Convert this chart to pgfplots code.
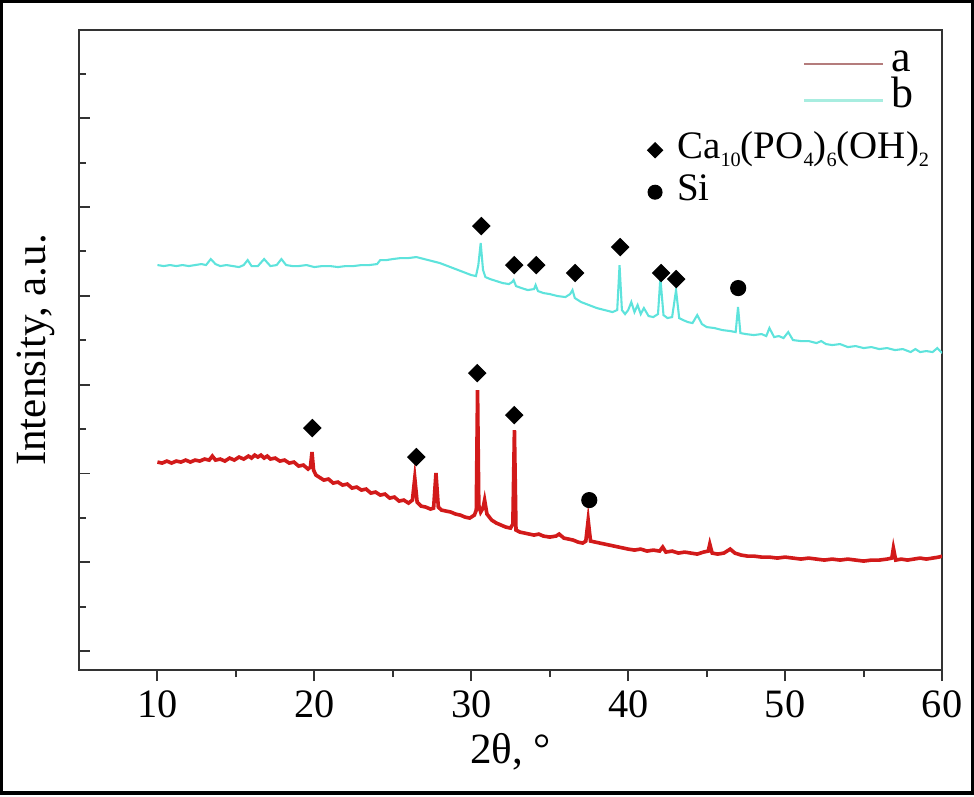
\documentclass[border=0pt]{standalone}
\usepackage{pgfplots}
\pgfplotsset{compat=1.18}
\usepackage{fontspec}
\setmainfont{Liberation Serif}
\definecolor{redA}{HTML}{D21A1A}
\definecolor{cyanB}{HTML}{5EE3DC}
\definecolor{legA}{HTML}{B47C7C}
\definecolor{legB}{HTML}{A8EDE0}
\definecolor{axisgray}{HTML}{333333}
\newcommand{\sub}[1]{\raisebox{-0.45ex}{\fontsize{7.3}{8}\selectfont #1}}
\begin{document}
\begin{tikzpicture}
\useasboundingbox (-28.4pt,-45.3pt) rectangle (321.9pt,241.0pt);
\begin{axis}[
  at={(0pt,0pt)}, anchor=south west,
  scale only axis, width=310.4pt, height=230.2pt,
  xmin=5, xmax=60, ymin=0, ymax=640,
  axis line style={color=axisgray, line width=0.7pt},
  xtick={10,20,...,60}, minor xtick={15,25,...,55},
  xtick pos=bottom, ytick pos=left,
  xtick align=outside, ytick align=inside,
  ytick={19,107.8,196.6,285.4,374.2,463,551.8},
  minor ytick={63.4,152.2,241,329.8,418.6,507.4,596.2},
  yticklabels={},
  tick style={color=axisgray, line width=0.7pt},
  major tick length=4pt, minor tick length=2.5pt,
  /pgf/number format/assume math mode=true,
  xticklabel style={font=\fontsize{14.5}{17}\selectfont},
  xlabel={2θ, °},
  ylabel={Intensity, a.u.},
  xlabel style={font=\fontsize{15.5}{18}\selectfont, at={(axis description cs:0.5,-0.128)}, anchor=center},
  ylabel style={font=\fontsize{15.5}{18}\selectfont, at={(axis description cs:-0.05,0.5)}, anchor=center},
  legend style={draw=none, fill=none, inner sep=0pt, outer sep=0pt,
    at={(axis description cs:0.8389,0.975)}, anchor=north west,
    font=\fontsize{15.8}{19}\selectfont, row sep=0pt,
    nodes={inner sep=0pt, text height=9pt, text depth=4pt}},
  legend cell align=left,
  legend image code/.code={\draw[#1] (0pt,0pt) -- (28.4pt,0pt); \path[draw=none, fill=none] (0pt,0pt) (31.3pt,0pt);},
]
\addlegendimage{legA, line width=1pt}
\addlegendentry{a}
\addlegendimage{legB, line width=1pt}
\addlegendentry{b}
% curve b (cyan)
\addplot[cyanB, line width=0.75pt, forget plot] coordinates {
(10.0,405)(10.4,404)(10.8,405)(11.2,404)(11.6,405)(12.0,404)(12.4,405)(12.8,406)
(13.1,405)(13.4,411)(13.7,406)(14.0,404)(14.4,405)(14.8,404)(15.2,403)(15.5,405)
(15.75,410)(16.0,404)(16.4,404)(16.8,411)(17.2,404)(17.6,405)(17.9,411)(18.2,405)
(18.6,404)(19.0,404)(19.5,405)(20.0,403)(20.5,404)(21.0,404)(21.5,403)(22.0,404)
(22.5,404)(23.0,405)(23.5,405)(24.0,406)(24.2,410)(24.6,410)(25.0,411)(25.5,412)
(26.0,412)(26.5,413)(27.0,411)(27.5,409)(28.0,407)(28.5,404)(29.0,401)(29.5,398)
(30.0,395)(30.3,394)(30.45,405)(30.6,427)(30.75,400)(30.9,393)(31.2,391)(31.6,389)
(32.0,387)(32.4,386)(32.6,388)(32.7,390)(32.85,384)(33.2,382)(33.6,380)(34.0,381)
(34.1,385)(34.25,379)(34.6,377)(35.0,376)(35.5,374)(36.0,373)(36.3,376)(36.45,380)
(36.6,372)(37.0,368)(37.5,365)(38.0,362)(38.5,360)(39.0,358)(39.3,360)(39.45,405)
(39.6,360)(39.8,356)(40.0,360)(40.2,368)(40.4,358)(40.6,365)(40.8,356)(41.0,362)
(41.3,354)(41.6,353)(41.9,356)(42.05,392)(42.25,355)(42.5,352)(42.8,353)(43.05,380)
(43.25,352)(43.5,350)(43.8,348)(44.1,347)(44.4,355)(44.7,346)(45.0,343)(45.5,342)
(46.0,340)(46.5,339)(46.85,338)(47.0,363)(47.15,337)(47.5,336)(48.0,335)(48.5,336)
(48.8,334)(49.0,342)(49.3,333)(49.6,334)(49.9,332)(50.2,338)(50.5,330)(51.0,329)
(51.5,329)(52.0,327)(52.3,329)(52.6,326)(53.0,325)(53.5,326)(54.0,323)(54.5,324)
(55.0,322)(55.5,323)(56.0,321)(56.5,322)(57.0,320)(57.5,321)(58.0,318)(58.3,321)
(58.6,318)(59.0,319)(59.4,318)(59.7,322)(60.0,317)
};
% curve a (red)
\addplot[redA, line width=1.3pt, forget plot] coordinates {
(10.0,208)(10.3,207)(10.6,209)(10.9,207)(11.2,209)(11.5,208)(11.8,210)(12.1,208)
(12.4,210)(12.7,209)(13.0,211)(13.3,210)(13.5,214)(13.7,210)(14.0,211)(14.3,209)
(14.6,212)(14.9,210)(15.2,213)(15.5,211)(15.8,214)(16.0,212)(16.2,215)(16.4,213)
(16.6,215)(16.8,212)(17.0,214)(17.2,211)(17.5,212)(17.8,209)(18.1,210)(18.4,207)
(18.7,208)(19.0,204)(19.3,205)(19.6,201)(19.75,203)(19.85,218)(19.95,200)(20.1,195)
(20.3,193)(20.6,190)(20.9,191)(21.2,187)(21.5,188)(21.8,185)(22.1,186)(22.4,182)
(22.7,183)(23.0,180)(23.3,181)(23.6,177)(23.9,178)(24.2,175)(24.5,176)(24.8,172)
(25.1,173)(25.4,169)(25.7,170)(26.0,167)(26.25,170)(26.4,192)(26.55,168)(26.8,164)
(27.1,163)(27.4,161)(27.6,162)(27.75,197)(27.9,163)(28.1,160)(28.4,159)(28.7,158)
(29.0,156)(29.3,155)(29.6,153)(29.9,152)(30.2,155)(30.32,160)(30.4,280)(30.48,165)
(30.6,158)(30.75,162)(30.85,170)(31.0,156)(31.3,150)(31.6,147)(31.9,145)(32.2,143)
(32.5,142)(32.65,146)(32.75,240)(32.85,140)(33.1,138)(33.4,137)(33.7,136)(34.0,135)
(34.3,136)(34.6,134)(35.0,133)(35.4,134)(35.6,136)(35.9,132)(36.2,131)(36.5,130)
(36.8,128)(37.1,127)(37.3,129)(37.45,150)(37.6,129)(37.9,128)(38.2,127)(38.5,126)
(38.8,125)(39.1,124)(39.4,123)(39.7,122)(40.0,121)(40.4,120)(40.8,121)(41.2,119)
(41.6,120)(42.0,119)(42.2,123)(42.4,118)(42.8,119)(43.2,117)(43.6,118)(44.0,117)
(44.4,116)(44.8,118)(45.1,119)(45.2,126)(45.35,117)(45.7,116)(46.1,117)(46.5,121)
(46.8,117)(47.2,115)(47.6,114)(48.0,114)(48.5,113)(49.0,113)(49.5,112)(50.0,113)
(50.5,112)(51.0,111)(51.5,112)(52.0,111)(52.5,110)(53.0,111)(53.5,110)(54.0,111)
(54.5,110)(55.0,109)(55.5,110)(56.0,110)(56.5,111)(56.8,112)(56.9,122)(57.05,110)
(57.4,111)(57.8,110)(58.2,111)(58.6,112)(59.0,111)(59.4,112)(59.8,113)(60.0,114)
};
% peak markers
\addplot[only marks, mark=square*, mark size=2.16pt, black, mark options={rotate=45, fill=black}, forget plot] coordinates {
(30.64,444)(32.74,405)(34.14,405)(36.62,397)(39.49,423)(42.10,397)(43.06,391)
(19.87,242)(26.5,213)(30.38,297)(32.74,255)
};
\addplot[only marks, mark=*, mark size=2.7pt, black, mark options={fill=black}, forget plot] coordinates {
(47.01,382)(37.52,170)
};
\end{axis}
\begin{axis}[
  at={(0pt,0pt)}, anchor=south west,
  scale only axis, width=310.4pt, height=230.2pt,
  xmin=5, xmax=60, ymin=0, ymax=640,
  hide axis,
  legend style={draw=none, fill=none, inner sep=0pt, outer sep=0pt,
    at={(axis description cs:0.6588,0.845)}, anchor=north west,
    font=\fontsize{14}{17}\selectfont, row sep=0pt,
    nodes={inner sep=0pt, text height=10.5pt, text depth=4.6pt}},
  legend cell align=left,
  legend image code/.code={\draw[#1] plot coordinates {(2.7pt,0pt)}; \path[draw=none, fill=none] (0pt,0pt) (10.7pt,0pt);},
]
\addlegendimage{black, mark=square*, mark size=1.9pt, mark options={rotate=45, fill=black}}
\addlegendentry{Ca\sub{10}(PO\sub{4})\sub{6}(OH)\sub{2}}
\addlegendimage{black, mark=*, mark size=2.5pt, mark options={fill=black}}
\addlegendentry{Si}
\end{axis}
\draw[line width=1.1pt, black] (-27.7pt,-44.2pt) rectangle (321.2pt,240.3pt);
\end{tikzpicture}
\end{document}
